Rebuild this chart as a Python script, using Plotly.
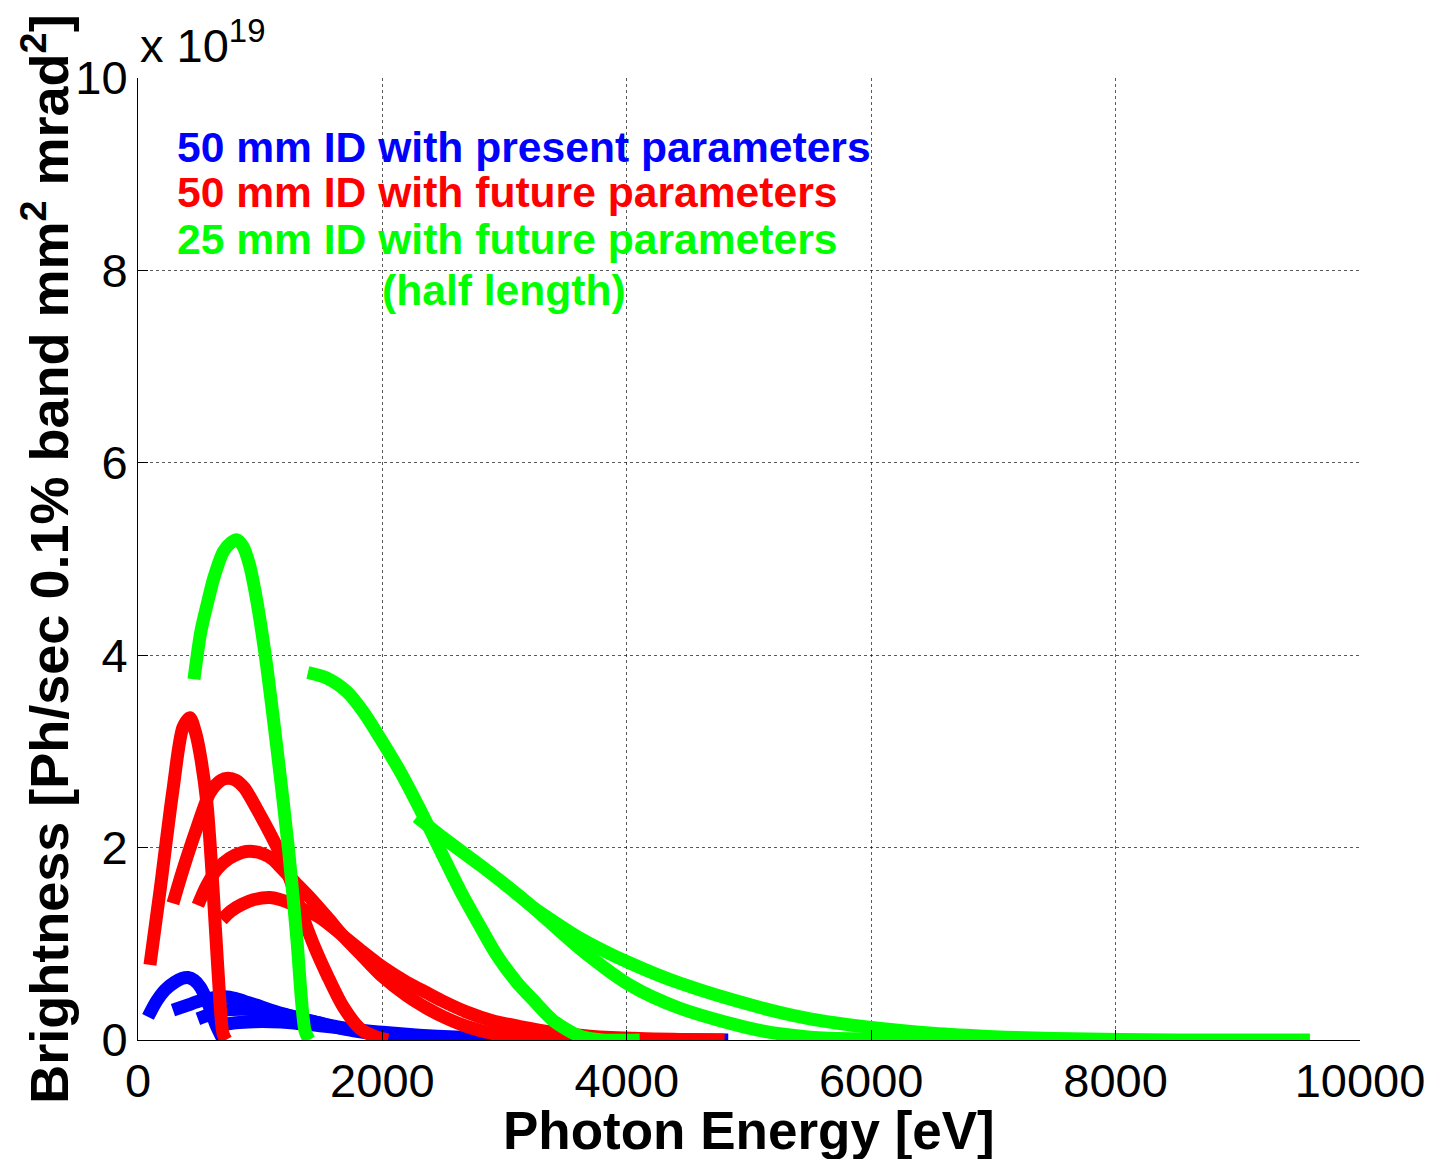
import plotly.graph_objects as go

# ---------------- data (brightness in units of 1e19) ----------------
# 50 mm ID, present parameters (blue) - harmonics 1,3,5,7
blue_h1_e = [82, 150, 221, 300, 360, 409, 460, 510, 550, 589, 640, 690]
blue_h1_b = [0.24, 0.40, 0.52, 0.60, 0.64, 0.65, 0.62, 0.55, 0.45, 0.33, 0.15, 0.02]
blue_h3_e = [286, 400, 515, 620, 712, 800, 900, 1000, 1088, 1250, 1472, 1700, 2000, 2070]
blue_h3_b = [0.31, 0.36, 0.41, 0.44, 0.45, 0.43, 0.39, 0.35, 0.31, 0.25, 0.18, 0.11, 0.05, 0.03]
blue_h5_e = [490, 600, 712, 850, 1000, 1088, 1250, 1472, 1700, 2000, 2300, 2600, 3000, 3450]
blue_h5_b = [0.22, 0.27, 0.31, 0.32, 0.31, 0.29, 0.25, 0.18, 0.12, 0.07, 0.035, 0.015, 0.005, 0.0]
blue_h7_e = [686, 800, 950, 1088, 1250, 1472, 1700, 2000, 2300, 2600, 3000, 3500, 4000, 4830]
blue_h7_b = [0.16, 0.18, 0.19, 0.19, 0.18, 0.15, 0.12, 0.08, 0.05, 0.03, 0.015, 0.006, 0.002, 0.0]

# 50 mm ID, future parameters (red)
red_h1_e = [98, 180, 286, 368, 425, 470, 507, 564, 613, 654, 695, 720]
red_h1_b = [0.78, 1.55, 2.60, 3.25, 3.35, 3.20, 2.98, 2.46, 1.59, 0.73, 0.07, 0.0]
red_h3_e = [286, 368, 483, 589, 680, 736, 800, 870, 973, 1080, 1162, 1250, 1350, 1450,
            1546, 1677, 1816, 1950, 2045]
red_h3_b = [1.42, 1.77, 2.21, 2.57, 2.70, 2.72, 2.70, 2.62, 2.40, 2.15, 1.94, 1.65, 1.28, 0.95,
            0.68, 0.35, 0.12, 0.03, 0.0]
red_h5_e = [490, 560, 650, 750, 850, 941, 1030, 1100, 1186, 1300, 1407, 1546, 1700, 1816,
            2000, 2200, 2364, 2500, 2691, 2900, 3124, 3300, 3500]
red_h5_b = [1.40, 1.60, 1.78, 1.89, 1.95, 1.96, 1.93, 1.88, 1.77, 1.62, 1.48, 1.28, 1.05, 0.90,
            0.66, 0.46, 0.33, 0.24, 0.14, 0.07, 0.03, 0.01, 0.0]
red_h7_e = [687, 760, 850, 950, 1080, 1160, 1250, 1350, 1450, 1546, 1700, 1816, 2000, 2200,
            2364, 2500, 2691, 2900, 3124, 3400, 3700, 4100, 4500, 4800]
red_h7_b = [1.25, 1.34, 1.41, 1.46, 1.48, 1.46, 1.42, 1.36, 1.30, 1.22, 1.06, 0.94, 0.76, 0.60,
            0.49, 0.40, 0.29, 0.20, 0.14, 0.08, 0.04, 0.015, 0.005, 0.0]

# 25 mm ID, future parameters, half length (green)
green_h1_e = [458, 515, 570, 622, 700, 761, 810, 860, 910, 960, 1039, 1140, 1235, 1300, 1366, 1400]
green_h1_b = [3.75, 4.25, 4.55, 4.81, 5.08, 5.17, 5.20, 5.13, 4.95, 4.65, 4.02, 3.00, 1.94, 1.05, 0.10, 0.0]
green_h3_e = [1390, 1550, 1710, 1850, 1980, 2150, 2307, 2470, 2634, 2800, 2937, 3100, 3231,
              3400, 3616, 3800, 4106]
green_h3_b = [3.82, 3.76, 3.62, 3.40, 3.14, 2.78, 2.40, 1.98, 1.56, 1.18, 0.88, 0.60, 0.42,
              0.20, 0.04, 0.0, 0.0]
green_h5_e = [2282, 2500, 2797, 3000, 3231, 3616, 4025, 4434, 5085, 5500, 6000, 6750]
green_h5_b = [2.32, 2.10, 1.82, 1.62, 1.38, 0.95, 0.57, 0.33, 0.10, 0.03, 0.01, 0.0]
green_h7_e = [3231, 3616, 4025, 4434, 5085, 5500, 6000, 6500, 7000, 7500, 8500, 9590]
green_h7_b = [1.38, 1.06, 0.80, 0.59, 0.34, 0.22, 0.13, 0.07, 0.035, 0.015, 0.0, 0.0]

x_ticks = [0, 2000, 4000, 6000, 8000, 10000]
y_ticks = [0, 2, 4, 6, 8, 10]

legend_lines = [
    ("50 mm ID with present parameters", "#0000FF"),
    ("50 mm ID with future parameters", "#FF0000"),
    ("25 mm ID with future parameters", "#00FF00"),
]
legend_extra = ("(half length)", "#00FF00")

series = [
    (blue_h1_e, blue_h1_b, "#0000FF"), (blue_h3_e, blue_h3_b, "#0000FF"),
    (blue_h5_e, blue_h5_b, "#0000FF"), (blue_h7_e, blue_h7_b, "#0000FF"),
    (red_h1_e, red_h1_b, "#FF0000"), (red_h3_e, red_h3_b, "#FF0000"),
    (red_h5_e, red_h5_b, "#FF0000"), (red_h7_e, red_h7_b, "#FF0000"),
    (green_h1_e, green_h1_b, "#00FF00"), (green_h3_e, green_h3_b, "#00FF00"),
    (green_h5_e, green_h5_b, "#00FF00"), (green_h7_e, green_h7_b, "#00FF00"),
]

# ---------------- figure ----------------
FONT = "Liberation Sans, Arial, sans-serif"
fig = go.Figure()
for ex, by, col in series:
    fig.add_trace(go.Scatter(x=ex, y=by, mode="lines",
                             line=dict(color=col, width=13, shape="spline", smoothing=0.8),
                             showlegend=False, hoverinfo="skip"))

axis_common = dict(
    showline=True, linecolor="black", linewidth=1, mirror=False,
    ticks="inside", ticklen=10, tickwidth=1, tickcolor="black",
    showgrid=True, gridcolor="rgba(0,0,0,0.65)", gridwidth=1, griddash="dot",
    zeroline=False, automargin=False,
    tickfont=dict(family=FONT, size=47, color="black"),
)
fig.update_xaxes(range=[0, 10000], tickvals=x_ticks, ticktext=[str(v) for v in x_ticks],
                 **axis_common)
fig.update_yaxes(range=[0, 10], tickvals=y_ticks, ticktext=[str(v) for v in y_ticks],
                 **axis_common)

ann = []
ys = [9.28, 8.81, 8.33]
for (txt, col), yy in zip(legend_lines, ys):
    ann.append(dict(x=300, y=yy, xref="x", yref="y", text=txt, showarrow=False,
                    xanchor="left", yanchor="middle",
                    font=dict(family=FONT, size=42.6, color=col, weight="bold")))
ann.append(dict(x=2994, y=7.80, xref="x", yref="y", text=legend_extra[0], showarrow=False,
                xanchor="center", yanchor="middle",
                font=dict(family=FONT, size=42.6, color=legend_extra[1], weight="bold")))
# exponent label
ann.append(dict(x=0, y=1.0, xref="paper", yref="paper", text="x 10<sup>19</sup>",
                showarrow=False, xanchor="left", yanchor="bottom", yshift=4,
                font=dict(family=FONT, size=47, color="black")))
# axis titles
ann.append(dict(x=0.5, y=-0.0936, xref="paper", yref="paper", text="Photon Energy [eV]",
                showarrow=False, xanchor="center", yanchor="middle",
                font=dict(family=FONT, size=53, color="black", weight="bold")))
ann.append(dict(x=-0.0755, y=0.5, xref="paper", yref="paper",
                text="Brightness [Ph/sec 0.1% band mm<sup>2</sup> mrad<sup>2</sup>]",
                textangle=-90, showarrow=False, xanchor="center", yanchor="middle",
                font=dict(family=FONT, size=54, color="black", weight="bold")))

fig.update_layout(
    width=1432, height=1159,
    margin=dict(l=138, r=72, t=78, b=119),
    paper_bgcolor="white", plot_bgcolor="white",
    annotations=ann,
)
fig.write_html("out.html")
